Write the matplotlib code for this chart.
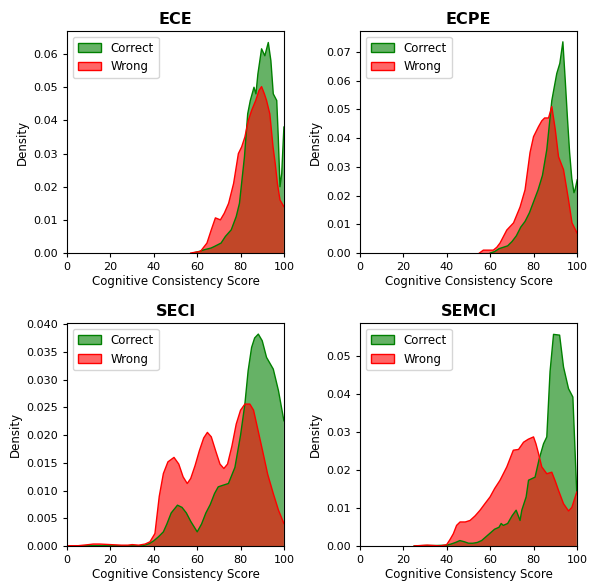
import numpy as np
import matplotlib
matplotlib.use("Agg")
import matplotlib.pyplot as plt
from matplotlib.patches import Patch

titles = ["ECE", "ECPE", "SECI", "SEMCI"]

# ECE
ece_cx = [58, 61, 63.3, 66.4, 68, 71, 73, 75.7, 78, 79.5, 81.8, 83.3, 84.5, 86.2, 87.1, 88, 89.7, 91.2, 92.8, 94, 95.1, 96.7, 97.4, 98.2, 99, 100]
ece_cy = [0, 0.0005, 0.001, 0.0015, 0.002, 0.003, 0.005, 0.007, 0.011, 0.015, 0.029, 0.042, 0.046, 0.050, 0.048, 0.054, 0.0616, 0.0595, 0.0635, 0.058, 0.048, 0.046, 0.035, 0.020, 0.024, 0.038]
ece_wx = [57, 61.5, 64.5, 66.5, 68.4, 70.7, 72.5, 74.5, 76.8, 79, 80.5, 82, 83.6, 85.1, 87, 88.5, 89.7, 91, 92, 93.5, 95, 96, 97, 98.2, 100]
ece_wy = [0, 0.0005, 0.003, 0.007, 0.0106, 0.010, 0.012, 0.015, 0.021, 0.030, 0.032, 0.035, 0.040, 0.043, 0.046, 0.049, 0.0502, 0.048, 0.046, 0.042, 0.032, 0.027, 0.021, 0.016, 0.014]

# ECPE
ecpe_cx = [60, 62, 64, 66, 68, 70, 72, 74, 76, 78, 80, 82, 84, 86, 88.3, 89.5, 90.6, 92, 93.4, 94.5, 95.5, 96.5, 97.5, 98.5, 99, 100]
ecpe_cy = [0, 0.0005, 0.0015, 0.002, 0.0025, 0.004, 0.006, 0.009, 0.011, 0.014, 0.018, 0.022, 0.027, 0.036, 0.053, 0.058, 0.0625, 0.066, 0.0735, 0.060, 0.047, 0.035, 0.026, 0.021, 0.022, 0.0255]
ecpe_wx = [55, 56.8, 59, 61.4, 63, 64.5, 67.6, 70.7, 73.7, 76, 78.3, 79.9, 82.2, 83.7, 85, 86.8, 88.3, 89.9, 91.4, 93.7, 96, 97.6, 99.9]
ecpe_wy = [0, 0.001, 0.001, 0.001, 0.002, 0.0035, 0.008, 0.0105, 0.016, 0.022, 0.035, 0.0405, 0.044, 0.046, 0.047, 0.047, 0.051, 0.043, 0.0335, 0.029, 0.0185, 0.0105, 0.007]

# SECI
seci_cx = [0, 35, 38, 40, 42.1, 44.4, 46, 48, 50.9, 53, 55, 57, 60, 62, 64, 66, 68, 69.7, 72, 74.4, 77.4, 80, 82, 83.5, 85.1, 86.5, 88.2, 90, 92, 95.1, 97.5, 100]
seci_cy = [0.0001, 0.0001, 0.0005, 0.001, 0.0017, 0.0026, 0.004, 0.006, 0.0074, 0.007, 0.006, 0.0045, 0.0026, 0.004, 0.006, 0.0075, 0.0095, 0.0107, 0.011, 0.0113, 0.0142, 0.020, 0.0256, 0.0316, 0.0358, 0.0375, 0.0382, 0.037, 0.034, 0.0319, 0.028, 0.0226]
seci_wx = [0, 5, 10, 12, 15, 20, 25, 28, 30, 33, 36, 38.2, 40.5, 42.5, 44.4, 46.5, 49.3, 51.5, 53.5, 55.4, 57, 59, 61, 63, 64.7, 66.5, 68.5, 70.5, 72.3, 74, 76, 78, 80, 82, 84.3, 86, 88, 90.5, 92.5, 95.1, 97.5, 100]
seci_wy = [0.0001, 0.0001, 0.0003, 0.0004, 0.0004, 0.0003, 0.0002, 0.0002, 0.0003, 0.0002, 0.0004, 0.0008, 0.0023, 0.009, 0.0131, 0.0152, 0.016, 0.0148, 0.0125, 0.0113, 0.0122, 0.0145, 0.0172, 0.0195, 0.0205, 0.0197, 0.0172, 0.0148, 0.014, 0.0148, 0.018, 0.022, 0.0245, 0.0256, 0.0256, 0.0245, 0.021, 0.0166, 0.013, 0.0095, 0.0065, 0.0041]

# SEMCI
semci_cx = [25, 30, 35, 40, 42, 44, 46, 48, 50, 52, 54, 56, 58, 60, 62, 64, 65, 66, 68, 70, 71.9, 73.7, 74.5, 76.5, 77.6, 80.6, 82.5, 84.5, 86, 87.5, 89.1, 91.9, 93.7, 96, 98, 99.8]
semci_cy = [0.0001, 0.0002, 0.0002, 0.0003, 0.0006, 0.001, 0.0015, 0.0012, 0.0008, 0.0008, 0.001, 0.0015, 0.0025, 0.0035, 0.0045, 0.005, 0.006, 0.0055, 0.006, 0.008, 0.0095, 0.0068, 0.0095, 0.013, 0.0174, 0.0182, 0.023, 0.027, 0.0288, 0.046, 0.0558, 0.0556, 0.0472, 0.0415, 0.0393, 0.0139]
semci_wx = [25, 28, 31, 34, 37, 39.9, 41.5, 43, 44.5, 46.1, 48.5, 50.7, 53, 55.3, 57.5, 59.9, 62, 64.5, 67.6, 70.6, 73, 75.3, 77.5, 79.9, 81, 82.2, 83.7, 86, 88.3, 90, 91.4, 93.7, 96, 97.5, 99.8]
semci_wy = [0.0001, 0.0002, 0.0003, 0.0002, 0.0001, 0.0004, 0.0018, 0.0033, 0.0055, 0.0064, 0.0064, 0.0068, 0.008, 0.0095, 0.0112, 0.013, 0.0152, 0.0174, 0.0209, 0.0253, 0.0255, 0.0274, 0.0282, 0.0288, 0.027, 0.0244, 0.0209, 0.0191, 0.0195, 0.017, 0.0147, 0.0112, 0.0093, 0.0102, 0.0143]

correct = [(ece_cx, ece_cy), (ecpe_cx, ecpe_cy), (seci_cx, seci_cy), (semci_cx, semci_cy)]
wrong = [(ece_wx, ece_wy), (ecpe_wx, ecpe_wy), (seci_wx, seci_wy), (semci_wx, semci_wy)]
ylims = [0.067, 0.0773, 0.0402, 0.0588]
yticks = [np.arange(0, 0.061, 0.01), np.arange(0, 0.071, 0.01), np.arange(0, 0.0401, 0.005), np.arange(0, 0.051, 0.01)]
yfmt = ["%.2f", "%.2f", "%.3f", "%.2f"]

fig = plt.figure(figsize=(5.89, 5.83), dpi=100)
pos = [[0.114, 0.566, 0.368, 0.381], [0.611, 0.566, 0.369, 0.381],
       [0.114, 0.063, 0.368, 0.383], [0.611, 0.063, 0.369, 0.383]]

for i in range(4):
    ax = fig.add_axes(pos[i])
    cx, cy = correct[i]
    wx, wy = wrong[i]
    ax.fill_between(cx, cy, facecolor="green", alpha=0.6, edgecolor="none")
    ax.plot(cx, cy, color="green", lw=1)
    ax.fill_between(wx, wy, facecolor="red", alpha=0.6, edgecolor="none")
    ax.plot(wx, wy, color="red", lw=1)
    ax.set_xlim(0, 100)
    ax.set_ylim(0, ylims[i])
    ax.set_yticks(yticks[i])
    ax.set_yticklabels([yfmt[i] % v for v in yticks[i]])
    ax.tick_params(labelsize=8, length=3)
    ax.set_title(titles[i], fontsize=11.5, fontweight="bold", pad=5)
    ax.set_xlabel("Cognitive Consistency Score", fontsize=8.5, labelpad=2)
    ax.set_ylabel("Density", fontsize=8.5, labelpad=3)
    handles = [Patch(facecolor=(0, 0.5, 0, 0.6), edgecolor="green", label="Correct"),
               Patch(facecolor=(1, 0, 0, 0.6), edgecolor="red", label="Wrong")]
    ax.legend(handles=handles, loc="upper left", fontsize=8.5)

plt.savefig("out.png", dpi=100)
